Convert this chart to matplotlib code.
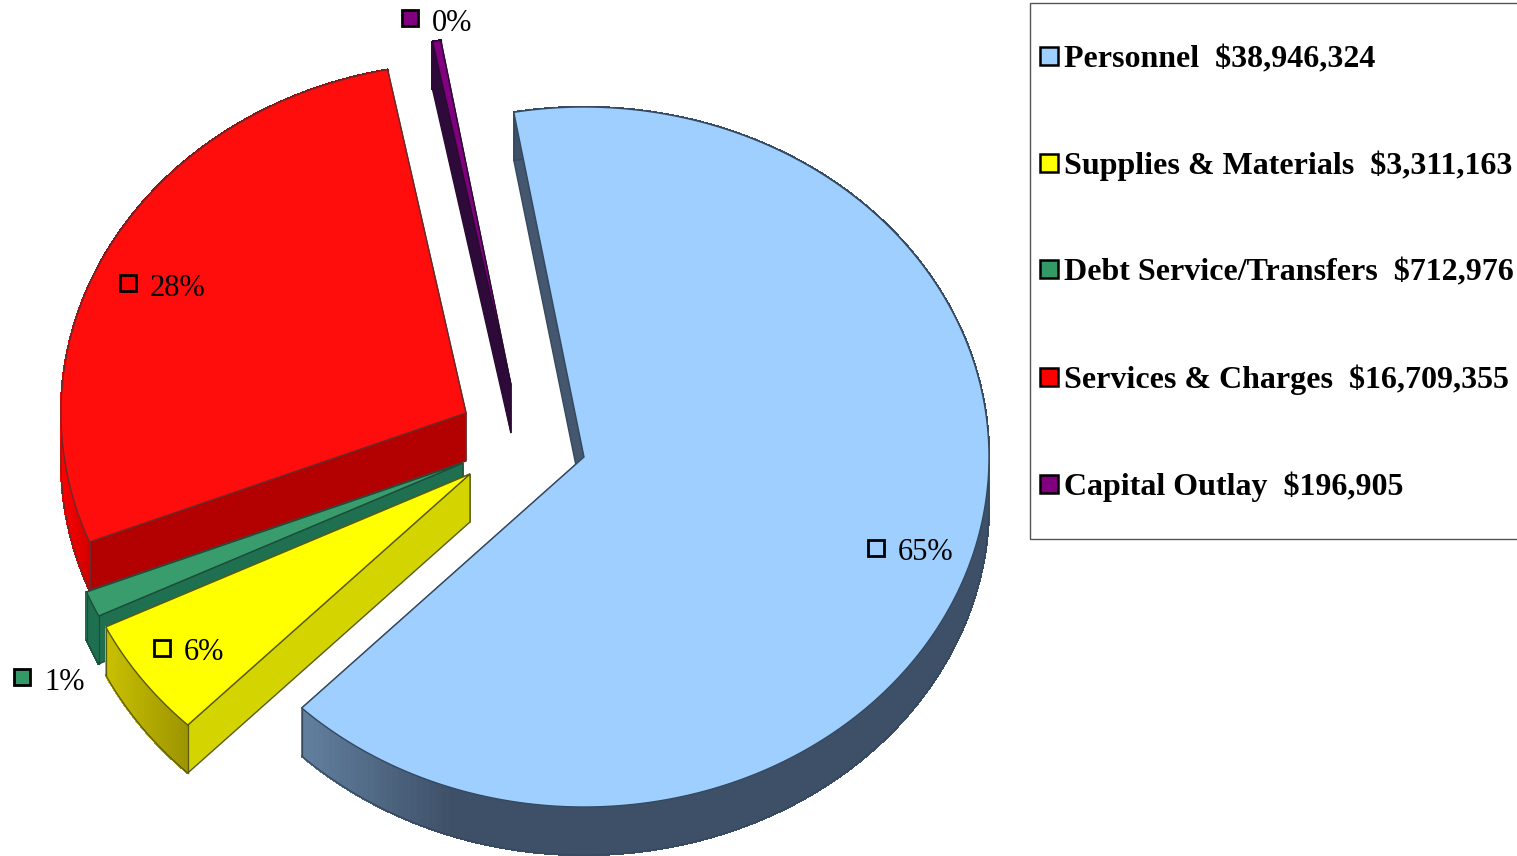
import numpy as np
import matplotlib
matplotlib.use('Agg')
import matplotlib.pyplot as plt
from matplotlib.patches import Polygon, Patch, Rectangle
from matplotlib.collections import PolyCollection
from matplotlib.colors import to_rgb

plt.rcParams['font.family'] = ['Liberation Serif', 'DejaVu Serif']

# values, clockwise from the first slice
categories = ['Personnel', 'Supplies & Materials', 'Debt Service/Transfers', 'Services & Charges', 'Capital Outlay']
amounts = [38946324, 3311163, 712976, 16709355, 196905]

# look of the slices
top_colors = ['#9ecfff', '#ffff00', '#389c6c', '#ff0c0c', '#800080']
legend_colors = ['#9ecfff', '#ffff00', '#339966', '#ff0000', '#800080']
edge_colors = ['#34495f', '#5a5a10', '#1d4d3a', '#6a2a2a', '#2a0a30']
cut_colors = ['#44576e', '#d4d400', '#1f7050', '#b30000', '#2e0a3a']
# rim gradient: colour at left end, colour at right end, x-range of the change
rim_grads = [('#62809f', '#3e5068', 300, 450), ('#c8c000', '#9c9400', 106, 188),
             ('#1f7050', '#1f7050', 0, 1), ('#ff0000', '#b00000', 60, 110), ('#2e0a3a', '#2e0a3a', 0, 1)]

# pixel layout
apexes = [(584, 457), (470, 474), (463, 463), (466, 413), (511, 385)]
label_pos = [(876, 548), (162, 648), (22, 677), (128, 283), (410, 18)]
RX, RY, DEPTH = 405, 350, 48
START = -9.98

W, H = 1517, 856
fig = plt.figure(figsize=(W / 100, H / 100), dpi=100)
ax = fig.add_axes([0, 0, 1, 1])
ax.set_xlim(0, W)
ax.set_ylim(H, 0)
ax.axis('off')

total = sum(amounts)
ends = START + np.cumsum(amounts) / total * 360
starts = np.concatenate([[START], ends[:-1]])


def arc(cx, cy, a0, a1, n=240):
    t = np.radians(np.linspace(a0, a1, n))
    return np.column_stack([cx + RX * np.sin(t), cy - RY * np.cos(t)])


def blend(c0, c1, f):
    return tuple((1 - f) * np.array(to_rgb(c0)) + f * np.array(to_rgb(c1)))


# painter's order: back slices first
for i in [4, 3, 2, 1, 0]:
    cx, cy = apexes[i]
    z = 5 - i
    pts = arc(cx, cy, starts[i], ends[i])
    low = pts + [0, DEPTH]
    apex = np.array([cx, cy])
    down = apex + [0, DEPTH]
    ec = edge_colors[i]

    # the two cut faces, the one that shows goes last
    for p, q in [(pts[-1], low[-1]), (pts[0], low[0])]:
        ax.add_patch(Polygon([apex, p, q, down], closed=True, fc=cut_colors[i], ec=ec, lw=1.0, zorder=z))

    # rim, lit by x position
    c0, c1, x0, x1 = rim_grads[i]
    polys = []
    cols = []
    for k in range(len(pts) - 1):
        polys.append([pts[k], pts[k + 1], low[k + 1], low[k]])
        f = np.clip(((pts[k][0] + pts[k + 1][0]) / 2 - x0) / (x1 - x0), 0, 1)
        cols.append(blend(c0, c1, f))
    ax.add_collection(PolyCollection(polys, facecolors=cols, edgecolors=cols, linewidths=1.0, antialiaseds=False, zorder=z))
    ax.plot(low[:, 0], low[:, 1], color=ec, lw=0.9, zorder=z)
    for p, q in [(pts[0], low[0]), (pts[-1], low[-1])]:
        ax.plot([p[0], q[0]], [p[1], q[1]], color=ec, lw=0.9, zorder=z)

    # top face
    ax.add_patch(Polygon(np.vstack([apex, pts]), closed=True, fc=top_colors[i], ec=ec, lw=1.0, joinstyle='miter', zorder=z))

# percent labels
for i, (x, y) in enumerate(label_pos):
    ax.plot([x], [y], marker='s', ms=11.5, mfc=legend_colors[i], mec='black', mew=2.0, ls='none', zorder=20)
    ax.text(x + 22, y + 5, f'{round(amounts[i] / total * 100)}%', fontsize=22.0, ha='left', va='center', zorder=20)

# legend box runs past the right edge of the picture
ax.add_patch(Rectangle((1030, 3), 600, 536, fc='white', ec='#555555', lw=1.0, zorder=25))

handles = [Patch(fc=c, ec='black', lw=1.8) for c in legend_colors]
labels = [f'{n}  ${v:,}' for n, v in zip(categories, amounts)]
leg = ax.legend(handles, labels, loc='upper left', bbox_to_anchor=(1040 / W, 1 - 45 / H), borderaxespad=0,
                prop={'family': 'Liberation Serif', 'weight': 'bold', 'size': 23.0}, frameon=False,
                handlelength=0.55, handleheight=0.5, handletextpad=0.19, labelspacing=2.41, borderpad=0)
leg.set_zorder(30)

fig.savefig('out.png', dpi=100)
